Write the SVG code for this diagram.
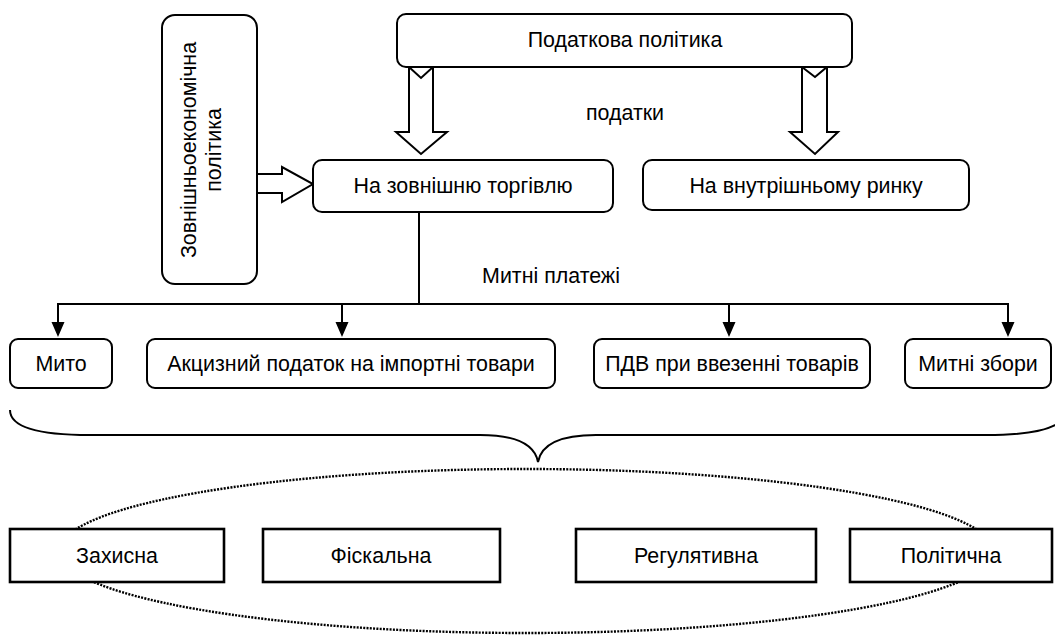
<svg xmlns="http://www.w3.org/2000/svg" width="1055" height="639" viewBox="0 0 1055 639">
<style>
.rb{fill:#fff;stroke:#000;stroke-width:2}
.sb{fill:#fff;stroke:#000;stroke-width:2.6}
.t{font-family:"Liberation Sans",Arial,sans-serif;font-size:21.4px;fill:#000;text-anchor:middle}
.ln{fill:none;stroke:#000;stroke-width:2}
.ha{fill:#fff;stroke:#000;stroke-width:2;stroke-linejoin:miter}
</style>
<defs>
<marker id="ah" markerWidth="13" markerHeight="15" refX="6.5" refY="15" orient="auto-start-reverse" markerUnits="userSpaceOnUse" viewBox="0 0 13 15">
<path d="M0,0 L13,0 L6.5,15 Z" fill="#000"/>
</marker>
</defs>
<rect width="1055" height="639" fill="#fff"/>

<g id="ellipse">
<ellipse cx="526" cy="551" rx="467" ry="82" fill="none" stroke="#000" stroke-width="2.4" stroke-dasharray="2 1.3"/>
</g>

<g id="connectors">
<polygon class="ha" points="409,67 421,78 433,67 433,132 447,132 421,154 396,132 409,132"/>
<polygon class="ha" points="802,67 815,77 827,67 827,132 838,132 815,154 790,132 802,132"/>
<polygon class="ha" points="257,174 282,174 282,167 313,184 282,202 282,193 257,193"/>
<path class="ln" d="M419,212 L419,304"/>
<path class="ln" d="M58,322 L58,304 L1008,304 L1008,322"/>
<path class="ln" d="M342,304 L342,322"/>
<path class="ln" d="M729,304 L729,322"/>
<path d="M51.5,322 L64.5,322 L58,337 Z M335.5,322 L348.5,322 L342,337 Z M722.5,322 L735.5,322 L729,337 Z M1001.5,322 L1014.5,322 L1008,337 Z" fill="#000"/>
<path class="ln" d="M10,410 C10,428 40,435 90,435 L480,435 C518,435 535,446 538,462 C541,446 558,435 596,435 L986,435 C1036,435 1066,428 1066,410"/>
<text class="t" x="551" y="283">Митні платежі</text>
<text class="t" x="625" y="120">податки</text>
</g>

<g id="n-podatkova">
<rect class="rb" x="397" y="14" width="455" height="53" rx="9"/>
<text class="t" x="625" y="47">Податкова політика</text>
</g>

<g id="n-zed">
<rect class="rb" x="162" y="15" width="95" height="269" rx="13"/>
<text class="t" transform="translate(196,150) rotate(-90)" x="0" y="0">Зовнішньоекономічна</text>
<text class="t" transform="translate(221,150) rotate(-90)" x="0" y="0">політика</text>
</g>

<g id="n-zovn">
<rect class="rb" x="313" y="160" width="300" height="52" rx="9"/>
<text class="t" x="463" y="193">На зовнішню торгівлю</text>
</g>

<g id="n-vnutr">
<rect class="rb" x="643" y="160" width="326" height="50" rx="9"/>
<text class="t" x="806" y="193">На внутрішньому ринку</text>
</g>

<g id="n-myto">
<rect class="rb" x="10" y="339" width="102" height="49" rx="8"/>
<text class="t" x="61" y="371">Мито</text>
</g>
<g id="n-akcyz">
<rect class="rb" x="147" y="339" width="408" height="49" rx="8"/>
<text class="t" x="351" y="371">Акцизний податок на імпортні товари</text>
</g>
<g id="n-pdv">
<rect class="rb" x="594" y="339" width="276" height="49" rx="8"/>
<text class="t" x="732" y="371">ПДВ при ввезенні товарів</text>
</g>
<g id="n-zbory">
<rect class="rb" x="905" y="339" width="146" height="49" rx="8"/>
<text class="t" x="978" y="371">Митні збори</text>
</g>

<g id="n-zakhysna">
<rect class="sb" x="10" y="529" width="214" height="53"/>
<text class="t" x="117" y="563">Захисна</text>
</g>
<g id="n-fiskalna">
<rect class="sb" x="263" y="529" width="237" height="53"/>
<text class="t" x="381" y="563">Фіскальна</text>
</g>
<g id="n-regul">
<rect class="sb" x="576" y="529" width="240" height="53"/>
<text class="t" x="696" y="563">Регулятивна</text>
</g>
<g id="n-polit">
<rect class="sb" x="850" y="529" width="202" height="53"/>
<text class="t" x="951" y="563">Політична</text>
</g>
</svg>
